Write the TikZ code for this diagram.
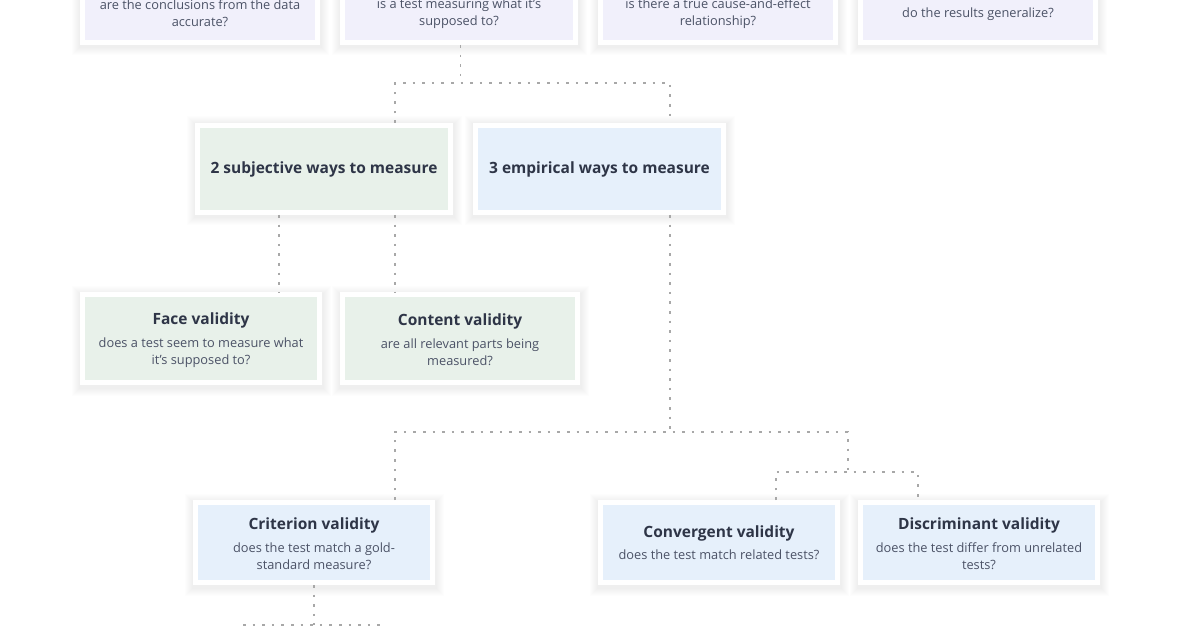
\documentclass[tikz,border=0pt]{standalone}
\usepackage{fontspec}
\setmainfont{Open Sans}
\definecolor{lav}{HTML}{F1F0FB}
\definecolor{grn}{HTML}{E8F1EA}
\definecolor{blu}{HTML}{E6F0FB}
\definecolor{ttl}{HTML}{2E3547}
\definecolor{sub}{HTML}{4B5266}
\definecolor{dotc}{HTML}{A8A8A8}
\newcommand{\titlef}{\bfseries\fontsize{15.5}{18}\selectfont\color{ttl}}
\newcommand{\subf}{\fontsize{12.8}{17}\selectfont\color{sub}}
\tikzset{
  shd/.style={preaction={transform canvas={yshift=-2pt}, draw=black, draw opacity=0.007, line width=#1}},
  card/.style={draw=white, line width=5pt, rectangle, inner sep=0pt,
    minimum width=#1, align=center, font=\subf,
    shd=22pt, shd=20pt, shd=18pt, shd=16pt, shd=14pt, shd=12pt, shd=10pt, shd=8pt},
  subtext/.style={align=center, font=\subf, inner sep=0pt},
  conn/.style={draw=dotc, line width=1.3pt, dash pattern=on 2.6pt off 7pt}
}
\begin{document}
\begin{tikzpicture}[x=1pt,y=-1pt]
\useasboundingbox[fill=white] (0,0) rectangle (1196,628);
\clip (0,0) rectangle (1196,628);
% top row
\node[card=235pt, minimum height=85pt, fill=lav] (t1) at (200,0) {};
\node[card=233pt, minimum height=85pt, fill=lav] (t2) at (459,0) {};
\node[card=235pt, minimum height=85pt, fill=lav] (t3) at (718,0) {};
\node[card=235pt, minimum height=85pt, fill=lav] (t4) at (978,0) {};
\node[subtext] (t1x) at (200,13.5) {are the conclusions from the data\\accurate?};
\node[subtext] (t2x) at (459,13.5) {is a test measuring what it's\\supposed to?};
\node[subtext] (t3x) at (718,13.5) {is there a true cause-and-effect\\relationship?};
\node[subtext] (t4x) at (978,14) {do the results generalize?};
% middle
\node[card=253pt, minimum height=87pt, fill=grn] (s) at (324,169) {\titlef 2 subjective ways to measure};
\node[card=248pt, minimum height=87pt, fill=blu] (e) at (599.5,169) {\titlef 3 empirical ways to measure};
% subjective children
\node[card=237pt, minimum height=88pt, fill=grn] (face) at (201,338.5) {};
\node[subtext] (facex) at (201,340)
  {{\titlef Face validity}\\[6pt]does a test seem to measure what\\it's supposed to?};
\node[card=235pt, minimum height=88pt, fill=grn] (content) at (460,338.5) {};
\node[subtext] (contentx) at (460,340)
  {{\titlef Content validity}\\[6pt]are all relevant parts being\\measured?};
% empirical children
\node[card=237pt, minimum height=80pt, fill=blu] (crit) at (314,542.5) {};
\node[subtext] (critx) at (314,543.5)
  {{\titlef Criterion validity}\\[6pt]does the test match a gold-\\standard measure?};
\node[card=237pt, minimum height=80pt, fill=blu] (conv) at (719,542.5)
  {{\titlef Convergent validity}\\[5pt]does the test match related tests?};
\node[card=237pt, minimum height=80pt, fill=blu] (disc) at (979,542.5) {};
\node[subtext] (discx) at (979,543.5)
  {{\titlef Discriminant validity}\\[6pt]does the test differ from unrelated\\tests?};
% junction coordinates
\coordinate (h1l) at (395,83);
\coordinate (h1r) at (670,83);
\coordinate (xt) at (460.5,0);
\coordinate (xf) at (279,0);
\coordinate (xc) at (395,0);
\coordinate (h2l) at (395,432);
\coordinate (h2r) at (848,432);
\coordinate (h3l) at (776,472);
\coordinate (h3r) at (918,472);
\coordinate (xcr) at (314,0);
\coordinate (h4l) at (243,625);
\coordinate (h4r) at (386,625);
% connectors
\draw[conn] (t2.south -| xt) -- (xt |- h1l);
\draw[conn] (s.north -| h1l) |- (h1r) -- (e.north -| h1r);
\draw[conn] (s.south -| xf) -- (face.north -| xf);
\draw[conn] (s.south -| xc) -- (content.north -| xc);
\draw[conn] (e.south -| h1r) -- (h1r |- h2l);
\draw[conn] (crit.north -| h2l) |- (h2r) -- (h2r |- h3l);
\draw[conn] (conv.north -| h3l) |- (h3r) -- (disc.north -| h3r);
\draw[conn] (crit.south -| xcr) -- (xcr |- h4l);
\draw[conn] (h4l) -- (h4r);
\end{tikzpicture}
\end{document}
